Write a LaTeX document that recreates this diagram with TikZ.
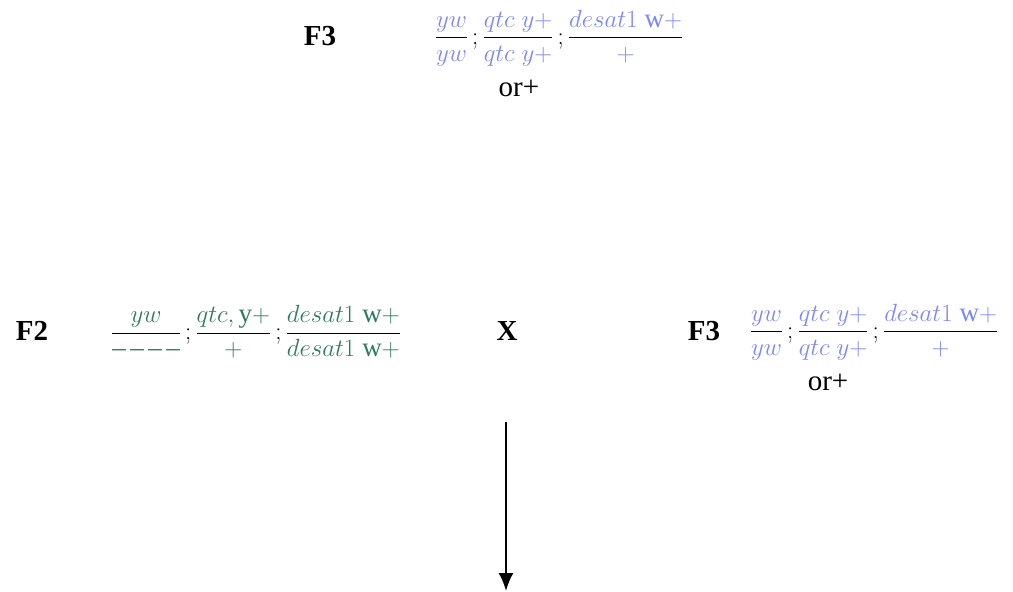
\documentclass[tikz,border=0pt]{standalone}
\usepackage{fontspec}
\setmainfont{Liberation Serif}
\usepackage{amsmath}
\usetikzlibrary{arrows.meta}
\definecolor{fblue}{RGB}{125,135,250}
\definecolor{fgreen}{RGB}{45,125,90}
\begin{document}
\begin{tikzpicture}[x=1pt,y=-1pt,
  lbl/.style={font=\fontsize{29}{34}\selectfont\bfseries, inner sep=0pt},
  frac/.style={font=\fontsize{27}{32}\selectfont, inner sep=0pt},
  orp/.style={font=\fontsize{29}{34}\selectfont, inner sep=0pt}]
\useasboundingbox (0,0) rectangle (1013,592);
\node[lbl] (f3top) at (320,36) {F3};
\node[frac] (fr3top) at (559,38) {$\dfrac{\color{fblue}yw}{\color{fblue}yw}\,;\dfrac{\color{fblue}qtc\;y{+}}{\color{fblue}qtc\;y{+}}\,;\dfrac{\color{fblue}desat1\;\mathrm{w}{+}}{\color{fblue}+}$};
\node[orp] (ortop) at (519,88) {or+};
\node[lbl] (f2) at (32,331) {F2};
\node[frac] (fr2) at (256,332) {$\dfrac{\color{fgreen}yw}{\color{fgreen}\text{–\,–\,–\,–}}\,;\dfrac{\color{fgreen}qtc,\mathrm{y}{+}}{\color{fgreen}+}\,;\dfrac{\color{fgreen}desat1\;\mathrm{w}{+}}{\color{fgreen}desat1\;\mathrm{w}{+}}$};
\node[lbl] (x) at (507,331) {X};
\node[lbl] (f3r) at (704,331) {F3};
\node[frac] (fr3r) at (874,332) {$\dfrac{\color{fblue}yw}{\color{fblue}yw}\,;\dfrac{\color{fblue}qtc\;y{+}}{\color{fblue}qtc\;y{+}}\,;\dfrac{\color{fblue}desat1\;\mathrm{w}{+}}{\color{fblue}+}$};
\node[orp] (orr) at (828,382) {or+};
\coordinate (a1) at (506,422);
\coordinate (a2) at (506,591);
\draw[line width=2pt,-{Latex[length=18pt,width=15pt]}] (a1) -- (a2);
\end{tikzpicture}
\end{document}
